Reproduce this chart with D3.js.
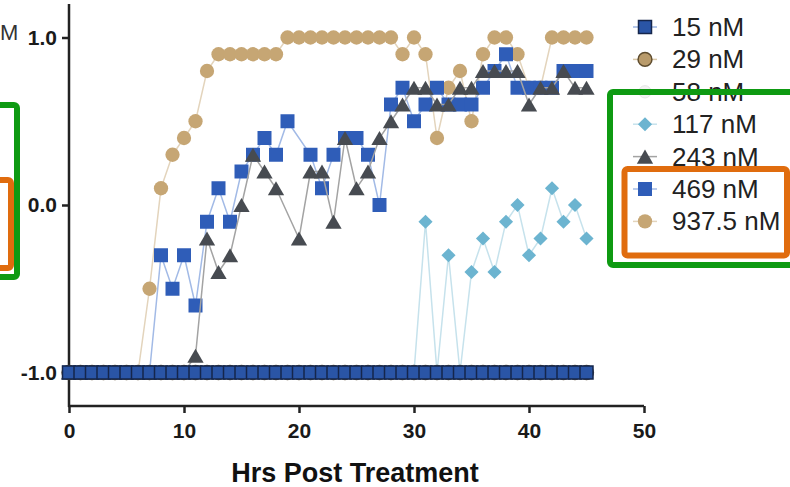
<!DOCTYPE html>
<html>
<head>
<meta charset="utf-8">
<script src="https://cdn.jsdelivr.net/npm/d3@7"></script>
<style>
  body { margin: 0; background: #fff; }
  svg { display: block; }
</style>
</head>
<body>
<script>
// hours post treatment (x categories)
var hours = [0,1,2,3,4,5,6,7,8,9,10,11,12,13,14,15,16,17,18,19,20,21,22,23,24,25,26,27,28,29,30,31,32,33,34,35,36,37,38,39,40,41,42,43,44,45];
var labels = ["15 nM", "29 nM", "58 nM", "117 nM", "243 nM", "469 nM", "937.5 nM"];
var xTicks = [0, 10, 20, 30, 40, 50];
var yTicks = [-1, 0, 1];

var s15 = [-1,-1,-1,-1,-1,-1,-1,-1,-1,-1,-1,-1,-1,-1,-1,-1,-1,-1,-1,-1,-1,-1,-1,-1,-1,-1,-1,-1,-1,-1,-1,-1,-1,-1,-1,-1,-1,-1,-1,-1,-1,-1,-1,-1,-1,-1];
var s29 = [-1,-1,-1,-1,-1,-1,-1,-1,-1,-1,-1,-1,-1,-1,-1,-1,-1,-1,-1,-1,-1,-1,-1,-1,-1,-1,-1,-1,-1,-1,-1,-1,-1,-1,-1,-1,-1,-1,-1,-1,-1,-1,-1,-1,-1,-1];
var s58 = [-1,-1,-1,-1,-1,-1,-1,-1,-1,-1,-1,-1,-1,-1,-1,-1,-1,-1,-1,-1,-1,-1,-1,-1,-1,-1,-1,-1,-1,-1,-1,-1,-1,-1,-1,-1,-1,-1,-1,-1,-1,-1,-1,-1,-1,-1];
var s117 = [-1,-1,-1,-1,-1,-1,-1,-1,-1,-1,-1,-1,-1,-1,-1,-1,-1,-1,-1,-1,-1,-1,-1,-1,-1,-1,-1,-1,-1,-1,-1,
            -0.1,-1,-0.3,-1,-0.4,-0.2,-0.4,-0.1,0.0,-0.3,-0.2,0.1,-0.1,0.0,-0.2];
var s243 = [-1,-1,-1,-1,-1,-1,-1,-1,-1,-1,-1,
            -0.9,-0.2,-0.4,-0.3,0.0,0.3,0.2,0.1,null,-0.2,0.2,0.2,-0.1,0.4,0.1,0.2,0.4,0.5,0.6,0.7,
            0.7,0.6,0.6,0.7,0.7,0.8,0.8,0.8,0.8,0.6,0.7,0.7,0.8,0.7,0.7];
var s469 = [-1,-1,-1,-1,-1,-1,-1,-1,
            -0.3,-0.5,-0.3,-0.6,-0.1,0.1,-0.1,0.2,0.3,0.4,0.3,0.5,null,0.3,0.1,0.3,0.4,0.4,0.3,0.0,0.6,0.7,0.5,
            0.6,0.7,0.6,0.6,0.6,0.7,0.8,0.9,0.7,0.7,0.7,0.7,0.8,0.8,0.8];
var s937 = [-1,-1,-1,-1,-1,-1,-1,
            -0.5,0.1,0.3,0.4,0.5,0.8,0.9,0.9,0.9,0.9,0.9,0.9,1.0,1.0,1.0,1.0,1.0,1.0,1.0,1.0,1.0,1.0,0.9,1.0,
            0.9,0.4,0.7,0.8,0.5,0.9,1.0,1.0,0.9,0.7,0.7,1.0,1.0,1.0,1.0];

var values = [s15, s29, s58, s117, s243, s469, s937];

// marker/line styles, same order as labels
var styles = [
  {shape: "square",   fill: "#2a55a6", stroke: "#15264b", sw: 1.5, size: 169, line: "#9db6e3"},
  {shape: "circle",   fill: "#b99b6b", stroke: "#5e4c2e", sw: 1.5, size: 150, line: "#d9c8aa"},
  {shape: "circle",   fill: "#f2f2f2", stroke: "#e6e6e6", sw: 1,   size: 120, line: "#efefef"},
  {shape: "diamond",  fill: "#6cb4d0", stroke: "none",    sw: 0,   size: 100, line: "#c6e2ec"},
  {shape: "triangle", fill: "#474b51", stroke: "none",    sw: 0,   size: 115, line: "#a3a3a3"},
  {shape: "square",   fill: "#2f5db8", stroke: "none",    sw: 0,   size: 196, line: "#a2bae6"},
  {shape: "circle",   fill: "#c6a674", stroke: "none",    sw: 0,   size: 160, line: "#e3d4bc"}
];

var width = 790, height = 487;

var svg = d3.select("body").append("svg")
    .attr("width", width)
    .attr("height", height)
    .style("font-family", "Liberation Sans, Arial, sans-serif");

var x = d3.scaleLinear().domain([0, 50]).range([69, 644]);
var y = d3.scaleLinear().domain([-1.2, 1.2]).range([406, 4]);

function symbolPath(st) {
  var type = st.shape == "circle" ? d3.symbolCircle
           : st.shape == "triangle" ? d3.symbolTriangle
           : d3.symbolSquare;
  return d3.symbol().type(type).size(st.size)();
}

// extra transform so each marker is centred on its box (triangle) or turned (diamond)
function markerShift(st) {
  if (st.shape == "diamond") return " rotate(45)";
  if (st.shape == "triangle") {
    var side = Math.sqrt(4 * st.size / Math.sqrt(3));
    return " translate(0," + (side * Math.sqrt(3) / 12) + ")";
  }
  return "";
}

// axes
var xAxis = d3.axisBottom(x).tickValues(xTicks).tickSize(7).tickPadding(10).tickFormat(d3.format("d"));
var yAxis = d3.axisLeft(y).tickValues(yTicks).tickSize(7).tickPadding(5)
    .tickFormat(function(d){ return d.toFixed(1); });

var gx = svg.append("g").attr("transform", "translate(0,406)").call(xAxis);
var gy = svg.append("g").attr("transform", "translate(69,0)").call(yAxis);
[gx, gy].forEach(function(g){
  g.select(".domain").attr("stroke", "#222").attr("stroke-width", 2.5);
  g.selectAll(".tick line").attr("stroke", "#222").attr("stroke-width", 2.5);
  g.selectAll(".tick text").attr("fill", "#1a1a1a").style("font-size", "21px").style("font-weight", "bold");
});
gy.select(".domain").attr("d", "M0," + y(1.2) + "V" + (y(-1.2) + 1));
gx.select(".domain").attr("d", "M68,0H" + x(50));

svg.append("text")
    .attr("x", 355).attr("y", 482)
    .attr("text-anchor", "middle")
    .attr("fill", "#111")
    .style("font-size", "27px").style("font-weight", "bold")
    .text("Hrs Post Treatment");

// series, drawn last-to-first so 15 nM sits on top
var plot = svg.append("g");
for (var i = values.length - 1; i >= 0; i--) {
  var st = styles[i];
  var pts = hours.map(function(h, j){ return {h: h, v: values[i][j]}; })
      .filter(function(d){ return d.v !== null; });
  var line = d3.line().x(function(d){ return x(d.h); }).y(function(d){ return y(d.v); });
  var g = plot.append("g");
  g.append("path").attr("d", line(pts))
      .attr("fill", "none").attr("stroke", st.line).attr("stroke-width", 1.5);
  g.selectAll("path.m").data(pts).enter().append("path")
      .attr("class", "m")
      .attr("d", symbolPath(st))
      .attr("transform", function(d){
        return "translate(" + x(d.h) + "," + y(d.v) + ")" + markerShift(st);
      })
      .attr("fill", st.fill)
      .attr("stroke", st.stroke)
      .attr("stroke-width", st.sw);
}

// legend
var legend = svg.append("g");
labels.forEach(function(name, i){
  var st = styles[i];
  var cy = 27 + i * 32.4;
  var row = legend.append("g").attr("transform", "translate(0," + cy + ")");
  row.append("line").attr("x1", 633).attr("x2", 657).attr("y1", 0).attr("y2", 0)
      .attr("stroke", st.line).attr("stroke-width", 1.5);
  row.append("path").attr("d", symbolPath(st))
      .attr("transform", "translate(645,0)" + markerShift(st))
      .attr("fill", st.fill).attr("stroke", st.stroke).attr("stroke-width", st.sw);
  row.append("text").attr("x", 672).attr("y", 9)
      .attr("fill", "#222").style("font-size", "26px")
      .text(name);
});

// cut-off label from neighbouring panel
svg.append("text").attr("x", 0).attr("y", 40)
    .attr("fill", "#333").style("font-size", "22px").text("M");

// highlight boxes
var boxes = svg.append("g").attr("fill", "none").attr("stroke-width", 6);
boxes.append("rect").attr("x", -40).attr("y", 105).attr("width", 57).attr("height", 172)
    .attr("rx", 3).attr("stroke", "#0e9a12");
boxes.append("rect").attr("x", -40).attr("y", 180).attr("width", 51).attr("height", 88)
    .attr("rx", 3).attr("stroke", "#e06c0e");
boxes.append("rect").attr("x", 610).attr("y", 92).attr("width", 200).attr("height", 173)
    .attr("rx", 3).attr("stroke", "#0e9a12");
boxes.append("rect").attr("x", 624.5).attr("y", 169).attr("width", 162.5).attr("height", 86.5)
    .attr("rx", 3).attr("stroke", "#e06c0e");
</script>
</body>
</html>
